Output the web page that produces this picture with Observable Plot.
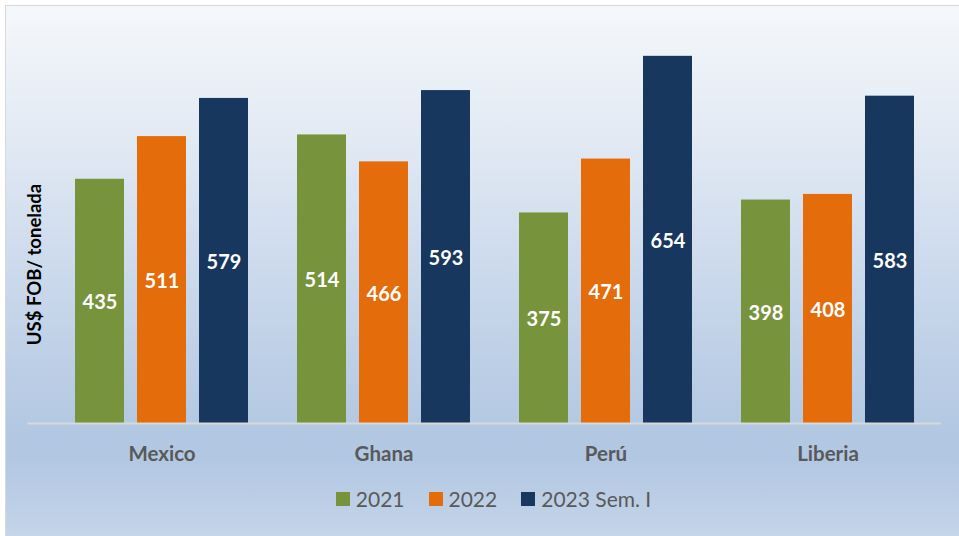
<!DOCTYPE html>
<html><head><meta charset="utf-8">
<script src="https://cdn.jsdelivr.net/npm/d3@7"></script>
<script src="https://cdn.jsdelivr.net/npm/@observablehq/plot@0.6"></script>
<style>
body{margin:0;background:#fff;}
#wrap{position:relative;width:959px;height:536px;overflow:hidden;font-family:Lato,sans-serif;}
#bg{position:absolute;left:5px;top:5px;width:960px;height:540px;box-sizing:border-box;border:1.5px solid #d9d9d9;
 background:linear-gradient(to bottom,#f5f8fb 0%,#e4ebf4 22%,#cbd9ec 50%,#b3c8e2 78%,#b2c7e2 84%,#c6d6ea 100%);}
#chart{position:absolute;left:0;top:0;}
#legend{position:absolute;left:52px;right:0;top:482px;display:flex;justify-content:center;}
#legend .lg-swatch{margin-right:24px !important;}
#legend .lg-swatch svg{margin-right:6px !important;}
</style></head>
<body><div id="wrap"><div id="bg"></div><div id="chart"></div><div id="legend"></div></div>
<script>
const countries = ["Mexico", "Ghana", "Perú", "Liberia"];
const series = ["2021", "2022", "2023 Sem. I"];
const v2021 = [435, 514, 375, 398];
const v2022 = [511, 466, 471, 408];
const v2023 = [579, 593, 654, 583];
const colors = ["#77933c", "#e46c0a", "#17375e"];
const yLabel = "US$ FOB/ tonelada";

const seriesValues = [v2021, v2022, v2023];
const data = countries.flatMap((c, i) => seriesValues.map((vals, j) => ({country: c, series: series[j], value: vals[i]})));

const plot = Plot.plot({
  width: 959, height: 475,
  marginTop: 30, marginBottom: 52, marginLeft: 75, marginRight: 44.5,
  style: {background: "transparent", overflow: "visible", fontFamily: "Lato, sans-serif"},
  fx: {domain: countries, paddingInner: 0.22, paddingOuter: 0, label: null},
  x: {domain: series, paddingInner: 0.217, paddingOuter: 0, axis: null},
  y: {domain: [0, 700], axis: null},
  color: {domain: series, range: colors},
  marks: [
    Plot.barY(data, {fx: "country", x: "series", y: "value", fill: "series"}),
    Plot.text(data, {fx: "country", x: "series", y: d => d.value / 2, dy: 1.5, text: d => String(d.value),
      fill: "white", fontWeight: "bold", fontSize: 20}),
    Plot.frame({facet: "super", anchor: "bottom", stroke: "#d9d9d9", strokeWidth: 2, insetLeft: -47, insetRight: -25.5}),
    Plot.axisFx({anchor: "bottom", tickSize: 0, tickPadding: 23, fontSize: 20.5, fontWeight: "bold", fill: "#595959", label: null}),
    Plot.text([yLabel], {facet: "super", frameAnchor: "left", textAnchor: "middle", text: d => d, rotate: -90, dx: -40, dy: 37.5,
      fontWeight: "bold", fontSize: 18.5, fill: "#000"})
  ]
});
document.getElementById("chart").append(plot);

const leg = Plot.legend({
  color: {domain: series, range: colors},
  legend: "swatches", swatchSize: 14, className: "lg",
  style: {fontSize: "21px", fontFamily: "Lato, sans-serif", color: "#595959", background: "transparent"}
});
document.getElementById("legend").append(leg);
</script>
</body></html>
